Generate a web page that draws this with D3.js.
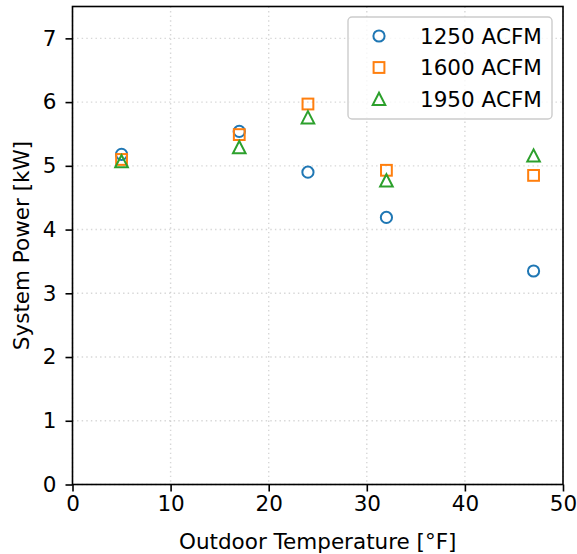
<!DOCTYPE html>
<html>
<head>
<meta charset="utf-8">
<script src="https://cdn.jsdelivr.net/npm/d3@7"></script>
<style>
  html, body { margin: 0; padding: 0; background: #fff; }
  svg { display: block; }
  text { font-family: "DejaVu Sans", sans-serif; fill: #000; }
</style>
</head>
<body>
<svg id="chart" width="577" height="554"></svg>
<script>
const temperatures = [5, 17, 24, 32, 47];
const seriesNames = ["1250 ACFM", "1600 ACFM", "1950 ACFM"];
const power1250 = [5.18, 5.54, 4.90, 4.19, 3.35];
const power1600 = [5.10, 5.49, 5.97, 4.93, 4.85];
const power1950 = [5.07, 5.29, 5.76, 4.77, 5.16];
const xTicks = [0, 10, 20, 30, 40, 50];
const yTicks = [0, 1, 2, 3, 4, 5, 6, 7];

const colors = ["#1f77b4", "#ff7f0e", "#2ca02c"];
const shapes = ["circle", "square", "triangle"];
const seriesValues = [power1250, power1600, power1950];

const svg = d3.select("#chart");
const m = { left: 72.5, right: 563, top: 6.5, bottom: 484.5 };
const fs = 21.5;

const x = d3.scaleLinear().domain([0, 50]).range([m.left, m.right]);
const y = d3.scaleLinear().domain([0, 7.5]).range([m.bottom, m.top]);

// grid
const grid = svg.append("g");
grid.selectAll("line.gx").data(xTicks).join("line")
  .attr("x1", d => x(d)).attr("x2", d => x(d))
  .attr("y1", m.top).attr("y2", m.bottom)
  .attr("stroke", "#b0b0b0").attr("stroke-opacity", 0.5)
  .attr("stroke-width", 1.4).attr("stroke-dasharray", "1.4,3.2");
grid.selectAll("line.gy").data(yTicks).join("line")
  .attr("y1", d => y(d)).attr("y2", d => y(d))
  .attr("x1", m.left).attr("x2", m.right)
  .attr("stroke", "#b0b0b0").attr("stroke-opacity", 0.5)
  .attr("stroke-width", 1.4).attr("stroke-dasharray", "1.4,3.2");

// axes
const xAxis = d3.axisBottom(x).tickValues(xTicks).tickSize(7).tickPadding(4.5).tickSizeOuter(0);
const yAxis = d3.axisLeft(y).tickValues(yTicks).tickSize(7).tickPadding(9).tickSizeOuter(0);

const gx = svg.append("g").attr("transform", `translate(0,${m.bottom})`).call(xAxis);
const gy = svg.append("g").attr("transform", `translate(${m.left},0)`).call(yAxis);
[gx, gy].forEach(g => {
  g.select(".domain").remove();
  g.selectAll(".tick line").attr("stroke", "#000").attr("stroke-width", 1.6);
  g.selectAll(".tick text").attr("font-size", fs).attr("font-family", "DejaVu Sans").attr("fill", "#000");
});

// frame
svg.append("rect")
  .attr("x", m.left).attr("y", m.top)
  .attr("width", m.right - m.left).attr("height", m.bottom - m.top)
  .attr("fill", "none").attr("stroke", "#000").attr("stroke-width", 1.6);

// labels
svg.append("text").attr("x", (m.left + m.right) / 2).attr("y", 549)
  .attr("text-anchor", "middle").attr("font-size", fs).text("Outdoor Temperature [°F]");
svg.append("text").attr("transform", `translate(29,${(m.top + m.bottom) / 2}) rotate(-90)`)
  .attr("text-anchor", "middle").attr("font-size", fs).text("System Power [kW]");

function drawMarker(g, shape, color, cx, cy) {
  const sw = 2;
  if (shape === "circle") {
    g.append("circle").attr("cx", cx).attr("cy", cy).attr("r", 5.6)
      .attr("fill", "none").attr("stroke", color).attr("stroke-width", sw);
  } else if (shape === "square") {
    g.append("rect").attr("x", cx - 5.4).attr("y", cy - 5.4).attr("width", 10.8).attr("height", 10.8)
      .attr("fill", "none").attr("stroke", color).attr("stroke-width", sw);
  } else {
    const r = 6.3;
    const pts = [[cx, cy - r], [cx - r, cy + r * 0.95], [cx + r, cy + r * 0.95]];
    g.append("polygon").attr("points", pts.map(p => p.join(",")).join(" "))
      .attr("fill", "none").attr("stroke", color).attr("stroke-width", sw).attr("stroke-linejoin", "miter");
  }
}

const marks = svg.append("g");
seriesValues.forEach((vals, i) => {
  const g = marks.append("g");
  vals.forEach((v, j) => drawMarker(g, shapes[i], colors[i], x(temperatures[j]), y(v)));
});

// legend
const lg = svg.append("g");
lg.append("rect").attr("x", 348).attr("y", 17).attr("width", 204).attr("height", 102)
  .attr("rx", 4).attr("fill", "#fff").attr("fill-opacity", 0.8)
  .attr("stroke", "#cccccc").attr("stroke-width", 1.4);
seriesNames.forEach((name, i) => {
  const cy = 36 + i * 31.5;
  drawMarker(lg, shapes[i], colors[i], 379, cy);
  lg.append("text").attr("x", 420).attr("y", cy + 7.8).attr("font-size", fs).text(name);
});
</script>
</body>
</html>
